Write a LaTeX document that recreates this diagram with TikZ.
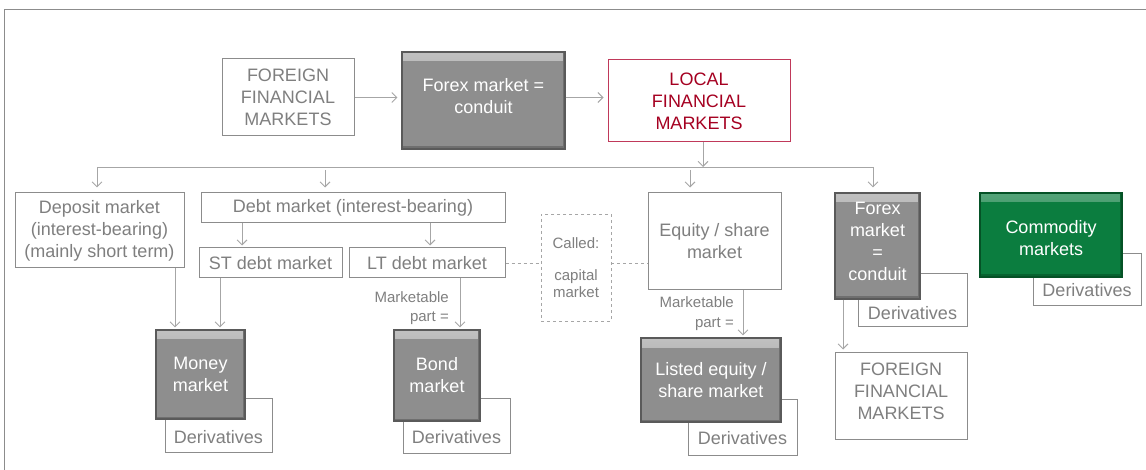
\documentclass[tikz,border=0pt]{standalone}
\usepackage{fontspec}
\setmainfont{Liberation Sans}
\usetikzlibrary{arrows.meta,calc}
\definecolor{txtgray}{HTML}{7F7F7F}
\definecolor{linegray}{HTML}{8C8C8C}
\definecolor{arrgray}{HTML}{A6A6A6}
\definecolor{boxgray}{HTML}{8E8E8E}
\definecolor{boxedge}{HTML}{5A5A5A}
\definecolor{localred}{HTML}{A50021}
\definecolor{localedge}{HTML}{C0395A}
\definecolor{commgreen}{HTML}{0B7D3F}
\definecolor{commedge}{HTML}{055226}
\begin{document}
\begin{tikzpicture}[x=1pt,y=-1pt,
  base/.style={rectangle, inner sep=0pt, align=center, font=\fontsize{18}{22}\selectfont},
  outline/.style={base, draw=linegray, line width=1pt, fill=white, text=txtgray},
  localbox/.style={base, draw=localedge, line width=1pt, fill=white, text=localred},
  solidbox/.style={base, draw=boxedge, line width=1.2pt, fill=boxgray, text=white,
    path picture={
      \shade[top color=white!45!boxgray, bottom color=boxgray]
        (path picture bounding box.north west) rectangle ([yshift=-9pt]path picture bounding box.north east);
      \fill[boxedge!60!boxgray]
        ([xshift=-2.5pt]path picture bounding box.north east) rectangle (path picture bounding box.south east);
      \fill[boxedge!60!boxgray]
        (path picture bounding box.south west) rectangle ([yshift=2.5pt]path picture bounding box.south east);
    }},
  greenbox/.style={base, draw=commedge, line width=1.2pt, fill=commgreen, text=white,
    path picture={
      \shade[top color=white!30!commgreen, bottom color=commgreen]
        (path picture bounding box.north west) rectangle ([yshift=-9pt]path picture bounding box.north east);
      \fill[commedge!60!commgreen]
        ([xshift=-2.5pt]path picture bounding box.north east) rectangle (path picture bounding box.south east);
      \fill[commedge!60!commgreen]
        (path picture bounding box.south west) rectangle ([yshift=2.5pt]path picture bounding box.south east);
    }},
  whitelabel/.style={base, text=white},
  dashbox/.style={base, draw=arrgray, line width=0.9pt, dashed, fill=white, text=txtgray,
    font=\fontsize{15}{17}\selectfont},
  dtext/.style={base, text=txtgray},
  smalltext/.style={base, text=txtgray, align=right, font=\fontsize{15}{19.5}\selectfont},
  arr/.style={draw=arrgray, line width=0.9pt, -{Straight Barb[length=5pt,width=10pt]}, shorten >=2pt},
  plainline/.style={draw=arrgray, line width=0.9pt},
  dashline/.style={draw=arrgray, line width=0.9pt, dashed},
  frameline/.style={draw=linegray, line width=1pt}
]
\useasboundingbox (0,0) rectangle (1146,470);
\draw[frameline] (4,470) -- (4,10) -- (1146,10);

% guide coordinates for connector positions
\coordinate (busL) at (97,167);
\coordinate (busR) at (873,167);
\coordinate (bD) at (325,170);
\coordinate (bE) at (690,170);
\coordinate (xLoc) at (703,0);
\coordinate (xD1) at (242,0);
\coordinate (xD2) at (430,0);
\coordinate (xDep) at (175,0);
\coordinate (xST) at (220,0);
\coordinate (xLT) at (460,0);
\coordinate (xEq) at (743,0);
\coordinate (xFx) at (843,0);

% derivatives boxes (behind)
\node[outline, minimum width=107pt, minimum height=54pt] (dmoney) at (218.5,425) {};
\node[outline, minimum width=107pt, minimum height=55pt] (dbond) at (456.5,425.5) {};
\node[outline, minimum width=109pt, minimum height=56pt] (dlisted) at (742.5,427) {};
\node[outline, minimum width=109pt, minimum height=53pt] (dfx) at (912.5,300.5) {};
\node[outline, minimum width=108pt, minimum height=52pt] (dcom) at (1087,280) {};
\node[dtext] (dmoneyT) at ([yshift=15pt]dmoney.south) {Derivatives};
\node[dtext] (dbondT) at ([yshift=16pt]dbond.south) {Derivatives};
\node[dtext] (dlistedT) at ([yshift=17pt]dlisted.south) {Derivatives};
\node[dtext] (dfxT) at ([yshift=14pt]dfx.south) {Derivatives};
\node[dtext] (dcomT) at ([yshift=16pt]dcom.south) {Derivatives};

% top row
\node[outline, minimum width=132pt, minimum height=77pt] (for1) at (288,97.5) {FOREIGN\\FINANCIAL\\MARKETS};
\node[solidbox, minimum width=163pt, minimum height=97pt,
  label={[whitelabel, yshift=4pt]center:{Forex market =\\conduit}}] (fx1) at (483.5,100.5) {};
\node[localbox, minimum width=182pt, minimum height=82pt] (local) at (699,101) {LOCAL\\FINANCIAL\\MARKETS};

% second row
\node[outline, minimum width=169pt, minimum height=75pt] (deposit) at (99.5,230.5) {Deposit market\\(interest-bearing)\\(mainly short term)};
\node[outline, minimum width=304pt, minimum height=30pt] (debt) at (353,208) {Debt market (interest-bearing)};
\node[outline, minimum width=143pt, minimum height=30pt] (st) at (270.5,263) {ST debt market};
\node[outline, minimum width=156pt, minimum height=30pt] (lt) at (427,263) {LT debt market};
\node[dashbox, minimum width=70pt, minimum height=107pt] (called) at (576,267.5) {Called:\\[15pt]capital\\market};
\node[outline, minimum width=133pt, minimum height=97pt] (equity) at (714.5,241.5) {Equity / share\\market};
\node[solidbox, minimum width=85pt, minimum height=106pt,
  label={[whitelabel, yshift=5pt]center:{Forex\\market\\=\\conduit}}] (fx2) at (877.5,246) {};
\node[greenbox, minimum width=142pt, minimum height=84pt,
  label={[whitelabel, yshift=-3pt]center:{Commodity\\markets}}] (comm) at (1051,235) {};

% bottom row
\node[solidbox, minimum width=89pt, minimum height=89pt] (money) at (200.5,374.5) {Money\\market};
\node[solidbox, minimum width=86pt, minimum height=91pt] (bond) at (437,375.5) {Bond\\market};
\node[solidbox, minimum width=140pt, minimum height=84pt] (listed) at (711,380) {Listed equity /\\share market};
\node[outline, minimum width=132pt, minimum height=87pt,
  label={[dtext, yshift=4pt]center:{FOREIGN\\FINANCIAL\\MARKETS}}] (for2) at (901,395.5) {};

% labels
\node[smalltext, anchor=east] (mk1) at (449,308) {Marketable\\part =};
\node[smalltext, anchor=east] (mk2) at (734,313.5) {Marketable\\part =};

% connectors
\draw[arr, shorten >=4pt] (for1.east) -- (for1.east -| fx1.west);
\draw[arr, shorten >=4pt] ([yshift=3pt]fx1.east) -- ([yshift=3pt]fx1.east -| local.west);
\draw[arr, shorten >=0pt] (local.south -| xLoc) -- (busR -| xLoc);
\draw[plainline] (busL) -- (busR);
\draw[arr, shorten >=5pt] (busL) -- (busL |- deposit.north);
\draw[arr, shorten >=5pt] (busR) -- (busR |- fx2.north);
\draw[arr, shorten >=5pt] (bD) -- (bD |- debt.north);
\draw[arr, shorten >=5pt] (bE) -- (bE |- equity.north);
\draw[arr] (debt.south -| xD1) -- (st.north -| xD1);
\draw[arr] (debt.south -| xD2) -- (lt.north -| xD2);
\draw[arr] (deposit.south -| xDep) -- (money.north -| xDep);
\draw[arr] (st.south -| xST) -- (money.north -| xST);
\draw[arr] (lt.south -| xLT) -- (bond.north -| xLT);
\draw[arr] (equity.south -| xEq) -- (listed.north -| xEq);
\draw[arr] (fx2.south -| xFx) -- (for2.north -| xFx);
\draw[dashline] (lt.east) -- (lt.east -| called.west);
\draw[dashline] (lt.east -| called.east) -- (lt.east -| equity.west);
\end{tikzpicture}
\end{document}
